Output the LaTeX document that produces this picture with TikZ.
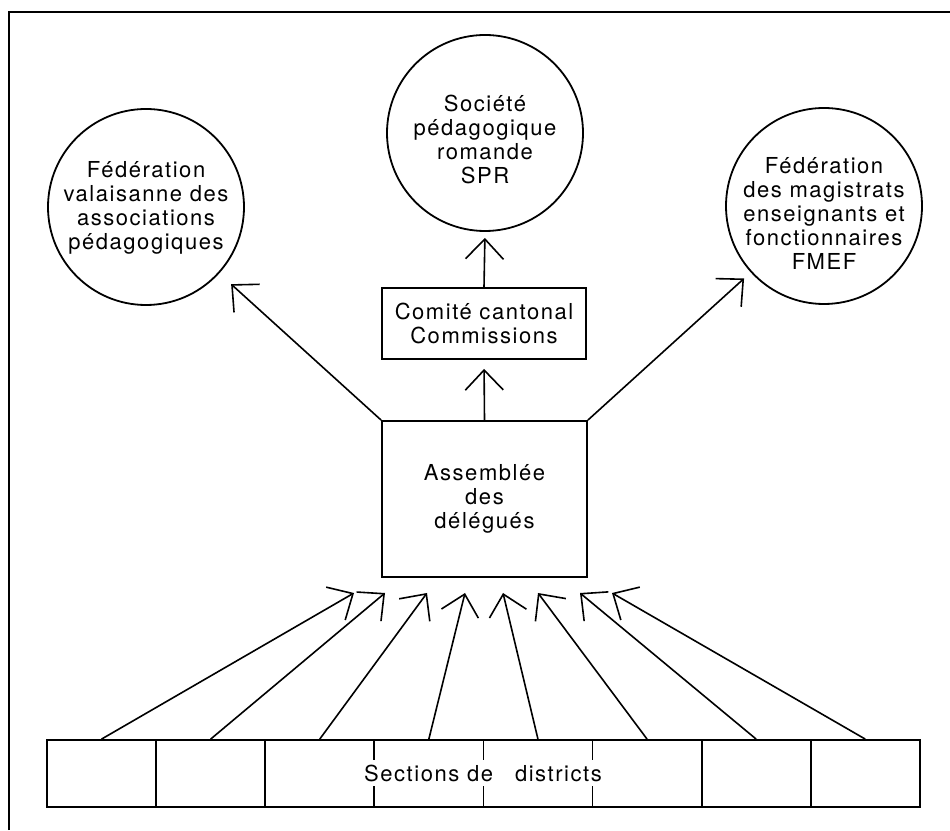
\documentclass[tikz,border=0pt]{standalone}
\usepackage{fontspec}
\setmainfont{TeX Gyre Heros}[LetterSpace=7]
\usepackage{tikz}
\usetikzlibrary{arrows.meta,positioning}

\tikzset{
  orgcircle/.style={draw, circle, minimum size=196pt, inner sep=0pt, line width=1.8pt},
  orgbox/.style={draw, rectangle, inner sep=0pt, line width=1.8pt},
  orgtext/.style={align=center, font=\fontsize{22}{24}\selectfont},
  link/.style={line width=1.6pt, -{Straight Barb[length=20pt,width=38pt]}},
}

\begin{document}
\begin{tikzpicture}[x=1pt,y=1pt]
        \useasboundingbox (0,0) rectangle (950,830);
        \draw[line width=1.8pt] (9,0) -- (9,818) -- (950,818);
        % top row
        \node[orgcircle] (fvap) at (146,623) {};
        \node[orgtext] (fvaptext) at (146,622) {Fédération\\valaisanne des\\associations\\pédagogiques};
        \node[orgcircle] (spr) at (485,697) {};
        \node[orgtext] (sprtext) at (485,691) {Société\\pédagogique\\romande\\SPR};
        \node[orgcircle] (fmef) at (824,624) {};
        \node[orgtext] (fmeftext) at (824,617) {Fédération\\des magistrats\\enseignants et\\fonctionnaires\\FMEF};
        % boxes
        \node[orgbox, minimum width=204pt, minimum height=71pt, orgtext] (com) at (484,506.5) {Comité cantonal\\Commissions};
        \node[orgbox, minimum width=205pt, minimum height=156pt, orgtext] (asm) at (484.5,331) {Assemblée\\des\\délégués};
        \draw[link, shorten >=9pt] (asm.north) -- (com.south);
        \draw[link, shorten >=6pt] (com.north) -- (spr.south);
        \draw[link, shorten >=16pt] (asm.north west) -- (fvap);
        \draw[link, shorten >=9pt] (asm.north east) -- (fmef);
        % sections
        \foreach \i in {1,...,8}
            \node[orgbox, minimum width=109.1pt, minimum height=67pt] (s\i) at ({47+109.1*(\i-0.5)},56.5) {};
        \node[orgtext, fill=white, inner xsep=3pt, inner ysep=5pt] (sections) at (483,57) {Sections de\hspace{22pt}districts};
        \foreach \i/\tx in {1/354,2/385,3/427,4/465,5/503,6/538,7/580,8/612} {
            \coordinate (tip\i) at (\tx,237);
            \draw[link] (s\i.north) -- (tip\i);
        }
    \end{tikzpicture}
\end{document}
